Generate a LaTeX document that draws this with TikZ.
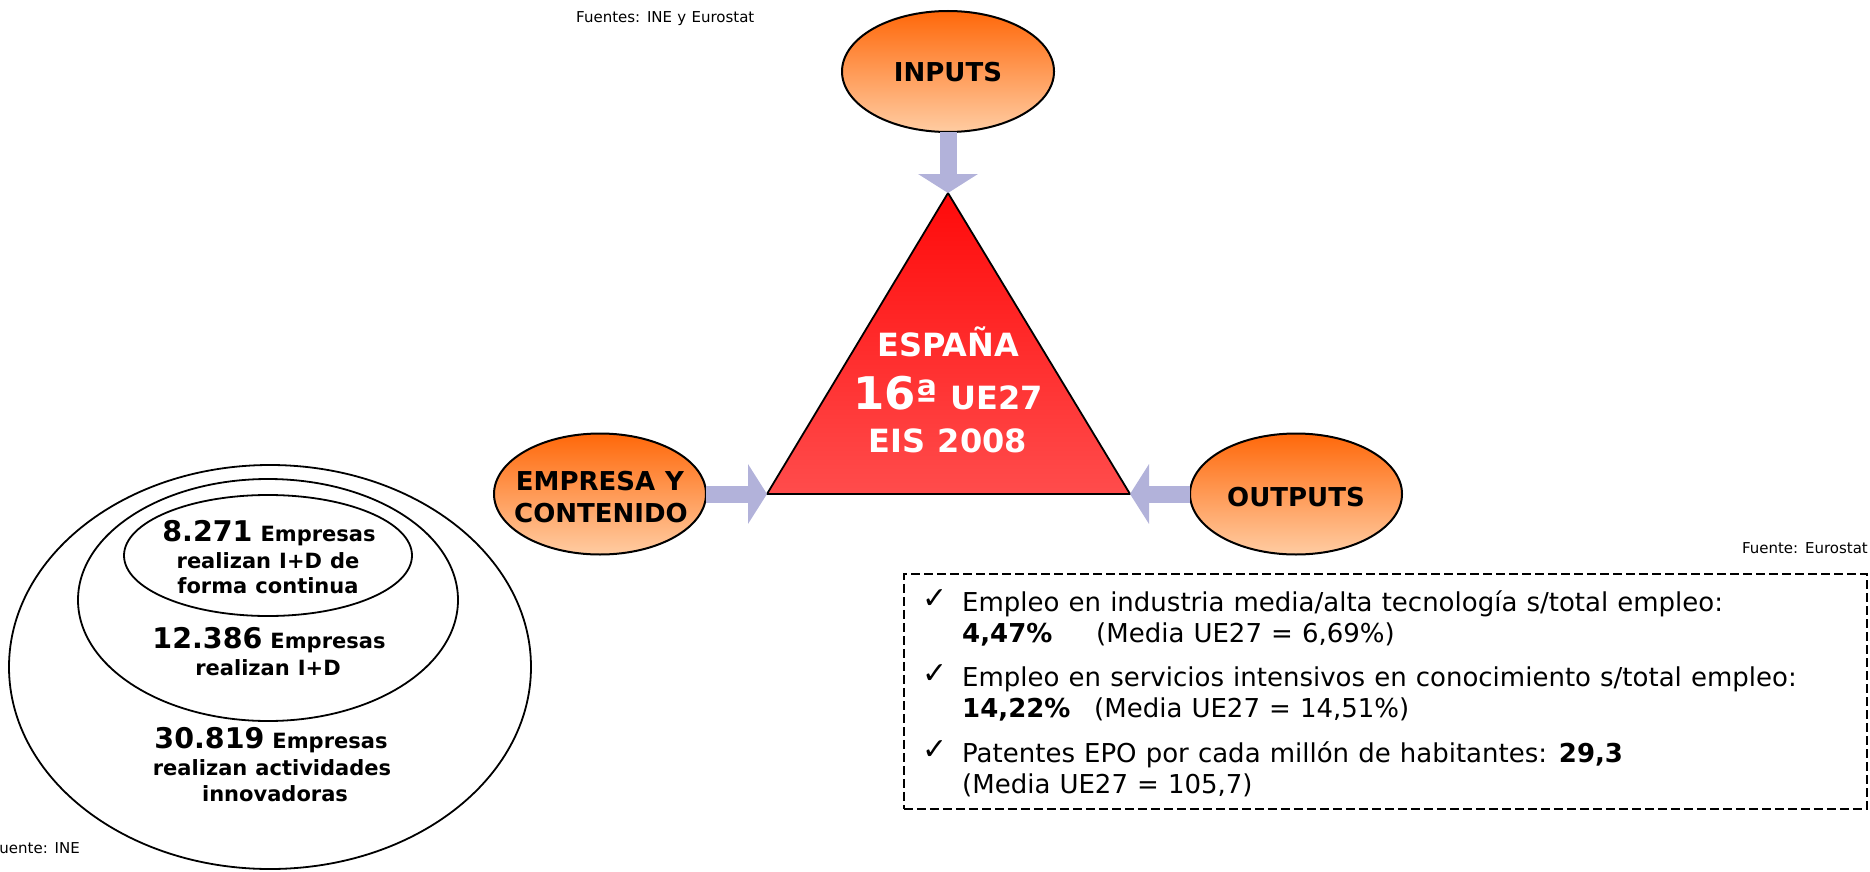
\documentclass[tikz,border=0pt]{standalone}
\usepackage{fontspec}
\setmainfont[WordSpace=1.1]{DejaVu Sans}
\usetikzlibrary{shapes.geometric,arrows.meta}
\definecolor{arrowc}{RGB}{178,178,218}
\definecolor{ovtop}{RGB}{255,104,10}
\definecolor{ovbot}{RGB}{255,204,162}
\definecolor{trtop}{RGB}{255,10,10}
\definecolor{trbot}{RGB}{255,76,76}
\newcommand{\bignum}[1]{{\fontsize{28.5}{30}\selectfont #1}}
\tikzset{
  ovalnode/.style={ellipse, draw, line width=2pt, top color=ovtop, bottom color=ovbot,
    minimum width=212pt, minimum height=121pt, inner sep=0pt, outer sep=0pt},
  ring/.style={ellipse, draw, line width=1.8pt, inner sep=0pt, outer sep=0pt},
  fatarrow/.style={draw=arrowc, line width=17pt, -{Triangle[width=59pt,length=19pt]}},
  ovtext/.style={font=\fontsize{26}{31}\selectfont\bfseries, anchor=base, inner sep=0pt},
  trtext/.style={font=\fontsize{32}{36}\selectfont\bfseries, text=white, anchor=base, inner sep=0pt},
  nest/.style={font=\fontsize{21}{26}\selectfont\bfseries, anchor=base, inner sep=0pt},
  boxtxt/.style={font=\fontsize{26}{31}\selectfont, anchor=base west, inner sep=0pt},
  chk/.style={font=\fontsize{30}{32}\selectfont, anchor=center, inner sep=0pt},
  src/.style={font=\fontsize{15}{18}\selectfont, inner sep=0pt},
  dashbox/.style={draw, line width=1.5pt, dash pattern=on 9pt off 4pt,
    minimum width=963pt, minimum height=235pt, inner sep=0pt, anchor=north west}
}
\begin{document}
\begin{tikzpicture}[x=1pt,y=-1pt]
\useasboundingbox (0,0) rectangle (1870,872);

% source notes
\node[src, anchor=base west] (srcA) at (576,23) {Fuentes: INE y Eurostat};
\node[src, anchor=base east] (srcB) at (1868,553) {Fuente: Eurostat};
\node[src, anchor=base east] (srcC) at (80,853) {Fuente: INE};

% triangle
\coordinate (A) at (948,193);
\coordinate (L) at (767,494);
\coordinate (R) at (1130,494);
\path[draw, line width=1.8pt, top color=trtop, bottom color=trbot] (A) -- (L) -- (R) -- cycle;
\node[trtext] (t1) at (948,356) {ESPAÑA};
\node[trtext] (t2) at (948,409) {{\fontsize{45}{46}\selectfont 16}{\fontsize{40}{46}\selectfont ª} UE27};
\node[trtext] (t3) at (948,452) {EIS 2008};

% ovals
\node[ovalnode] (inputs) at (948,71.5) {};
\node[ovalnode] (emp) at (600,494) {};
\node[ovalnode] (outp) at (1296,494) {};
\node[ovtext] (inputsT) at (948,82) {INPUTS};
\node[ovtext] (empT1) at (600,490) {EMPRESA Y};
\node[ovtext] (empT2) at (601,522) {CONTENIDO};
\node[ovtext] (outpT) at (1296,506) {OUTPUTS};

% arrows
\draw[fatarrow] (inputs.south) -- (A);
\draw[fatarrow] (emp.east) -- (L);
\draw[fatarrow] (outp.west) -- (R);

% nested ellipses
\node[ring, minimum width=522pt, minimum height=404pt] (outer) at (270,667) {};
\node[ring, minimum width=380pt, minimum height=242pt] (middle) at (268,600) {};
\node[ring, minimum width=288pt, minimum height=121pt] (inner) at (268,555.5) {};
\node[nest] (n1) at (269,541) {\bignum{8.271} Empresas};
\node[nest] (n2) at (268,568) {realizan I+D de};
\node[nest] (n3) at (268,593) {forma continua};
\node[nest] (n4) at (269,648) {\bignum{12.386} Empresas};
\node[nest] (n5) at (268,675) {realizan I+D};
\node[nest] (n6) at (271,748) {\bignum{30.819} Empresas};
\node[nest] (n7) at (272,775) {realizan actividades};
\node[nest] (n8) at (275,801) {innovadoras};

% dashed box
\node[dashbox] (box) at (903,573) {};
\node[chk] (c1) at (935,599) {✓};
\node[chk] (c2) at (935,674) {✓};
\node[chk] (c3) at (935,750) {✓};
\node[boxtxt] (b1) at (962,611) {Empleo en industria media/alta tecnología s/total empleo:};
\node[boxtxt] (b2) at (962,642) {\makebox[134pt][l]{\bfseries 4,47\%}(Media UE27 = 6,69\%)};
\node[boxtxt] (b3) at (962,686) {Empleo en servicios intensivos en conocimiento s/total empleo:};
\node[boxtxt] (b4) at (962,717) {\makebox[132pt][l]{\bfseries 14,22\%}(Media UE27 = 14,51\%)};
\node[boxtxt] (b5) at (962,762) {Patentes EPO por cada millón de habitantes: \textbf{29,3}};
\node[boxtxt] (b6) at (962,793) {(Media UE27 = 105,7)};
\end{tikzpicture}
\end{document}
